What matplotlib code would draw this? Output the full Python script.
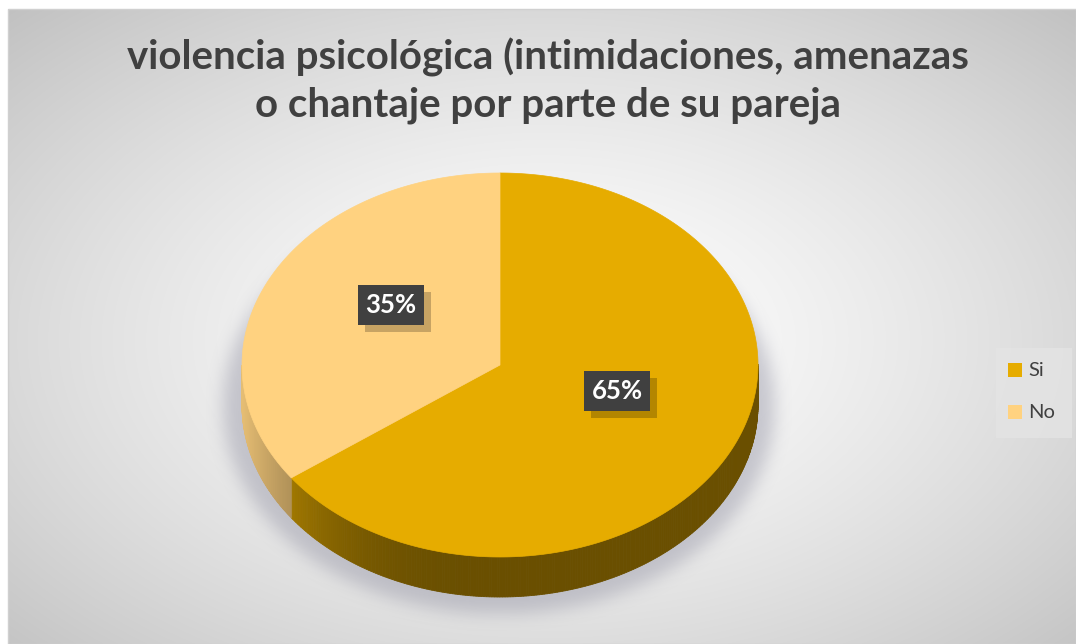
import numpy as np
import matplotlib
matplotlib.use('Agg')
import matplotlib.pyplot as plt
from matplotlib.patches import Polygon, Rectangle
import matplotlib.patheffects as pe

# data
labels = ['Si', 'No']
values = [65, 35]
colors = ['#E6AC00', '#FFD280']
title = 'violencia psicológica (intimidaciones, amenazas\no chantaje por parte de su pareja'

W, H = 1076, 644
fig = plt.figure(figsize=(W / 100, H / 100), dpi=100)
ax = fig.add_axes([0, 0, 1, 1])
ax.set_xlim(0, W)
ax.set_ylim(H, 0)
ax.axis('off')

# background radial gradient inside chart area
x0, y0 = 8, 9
yy, xx = np.mgrid[y0:H, x0:W]
r = np.sqrt(((xx - 545) / 540.0) ** 2 + ((yy - 340) / 330.0) ** 2) / np.sqrt(2)
bg = 255 - 62 * np.clip(r, 0, 1) ** 1.4
ax.imshow(np.dstack([bg, bg, bg]) / 255, extent=[x0, W, H, y0], zorder=0)
ax.add_patch(Rectangle((x0, y0), W - x0, H - y0, fill=False, ec='#d0d0d0', lw=1, zorder=1))

# pie geometry
cx, cy, sx, sy, depth = 500, 365, 258, 192, 40

# soft shadow under the pie
sh_y, sh_x = np.mgrid[0:H, 0:W]
mask = (((sh_x - cx) / (sx + 18)) ** 2 + ((sh_y - (cy + depth + 2)) / (sy + 16)) ** 2 <= 1).astype(float)
for _ in range(3):
    k = 8
    c = np.cumsum(np.pad(mask, ((0, 0), (k, k)), mode='edge'), axis=1)
    mask = (c[:, 2 * k:] - c[:, :-2 * k]) / (2 * k)
    c = np.cumsum(np.pad(mask, ((k, k), (0, 0)), mode='edge'), axis=0)
    mask = (c[2 * k:, :] - c[:-2 * k, :]) / (2 * k)
mask = mask[:H, :W]
shadow = np.zeros((H, W, 4))
shadow[..., 0] = 0.55
shadow[..., 1] = 0.55
shadow[..., 2] = 0.62
shadow[..., 3] = 0.42 * mask
ax.imshow(shadow, extent=[0, W, H, 0], zorder=2)


def pt(theta, dy=0):
    return cx + sx * np.cos(theta), cy - sy * np.sin(theta) + dy


# slice angles: clockwise from 12 o'clock
fracs = np.array(values) / sum(values)
starts = []
a = 90.0
for f in fracs:
    starts.append((a, a - 360 * f))
    a -= 360 * f


def shade(col, t):
    rgb = np.array(matplotlib.colors.to_rgb(col))
    # lighter at the left edge, dark toward front and right
    f = 0.46 + 0.44 * max(0.0, -np.cos(t)) ** 3
    return np.clip(rgb * f, 0, 1)


# sides
for (a1, a2), col in zip(starts, colors):
    th = np.radians(np.linspace(a1, a2, 400))
    for i in range(len(th) - 1):
        t1, t2 = th[i], th[i + 1]
        if np.sin((t1 + t2) / 2) > 0:
            continue
        p1, p2 = pt(t1), pt(t2)
        q1, q2 = pt(t1, depth), pt(t2, depth)
        sc = shade(col, (t1 + t2) / 2)
        ax.add_patch(Polygon([p1, p2, q2, q1], closed=True, fc=sc, ec=sc, lw=0.6, zorder=3))

# tops
for (a1, a2), col in zip(starts, colors):
    th = np.radians(np.linspace(a1, a2, 300))
    pts = [(cx, cy)] + [pt(t) for t in th]
    ax.add_patch(Polygon(pts, closed=True, fc=col, ec=col, lw=0.5, zorder=4))

# data labels
label_pos = [(617, 391), (391, 305)]
for (lx, ly), v in zip(label_pos, values):
    t = ax.text(lx, ly, f'{v}%', ha='center', va='center', fontsize=18.5, fontweight='bold',
                family='Lato', color='white', zorder=6,
                bbox=dict(boxstyle='square,pad=0.3', fc='#404040', ec='none'))
    t.get_bbox_patch().set_path_effects([
        pe.SimplePatchShadow(offset=(5, -5), shadow_rgbFace='black', alpha=0.22),
        pe.Normal()])

# title
ax.text(548, 81, title, ha='center', va='center', fontsize=29, fontweight='bold',
        family='Lato', color='#404040', linespacing=1.32, zorder=6)

# legend
ax.add_patch(Rectangle((996, 348), 76, 90, fc='#e4e4e4', ec='none', alpha=0.8, zorder=5))
for i, (lab, col) in enumerate(zip(labels, colors)):
    yy_ = 370 + 42 * i
    ax.add_patch(Rectangle((1008, yy_ - 7), 14, 14, fc=col, ec='none', zorder=6))
    ax.text(1028, yy_, lab, ha='left', va='center', fontsize=14.5, family='Lato',
            color='#404040', zorder=6)

fig.savefig('out.png', dpi=100)
